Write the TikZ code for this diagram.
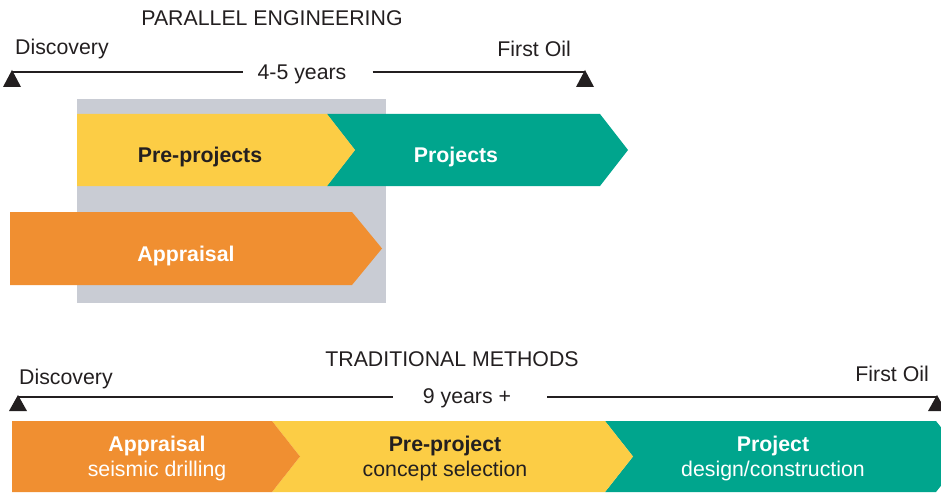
\documentclass[tikz,border=0pt]{standalone}
\usepackage{fontspec}
\setmainfont{Liberation Sans}
\definecolor{cyellow}{HTML}{FCCD45}
\definecolor{cteal}{HTML}{00A58D}
\definecolor{corange}{HTML}{F08F31}
\definecolor{cgray}{HTML}{C9CCD4}
\definecolor{ctext}{HTML}{231F20}
\begin{document}
\begin{tikzpicture}[x=1pt,y=-1pt,
  lbl/.style={font=\fontsize{21.3}{25}\selectfont, text=ctext, inner sep=0pt},
  blbl/.style={font=\fontsize{21.3}{25}\selectfont\bfseries, inner sep=0pt},
  tline/.style={draw=ctext, line width=2.2pt},
  tri/.style={fill=ctext},
]
\useasboundingbox (0,0) rectangle (941,492);
% ---------- PARALLEL ENGINEERING ----------
\node[lbl] (ptitle) at (272,18) {PARALLEL ENGINEERING};
\node[lbl,anchor=west] (pdisc) at (15,49) {Discovery};
\node[lbl,anchor=east] (poil) at (571,49) {First Oil};
\coordinate (pL) at (12,72);
\coordinate (pR) at (585,72);
\node[lbl] (pyears) at (302,74) {4-5 years};
\draw[tline] (pL) -- ([xshift=-14pt]pyears.west |- pL);
\draw[tline] ([xshift=26pt]pyears.east |- pR) -- (pR);
\fill[tri] (12,70) -- (21,87) -- (3,87) -- cycle;
\fill[tri] (585,70) -- (594,87) -- (576,87) -- cycle;
% gray band
\fill[cgray] (77,99) rectangle (386,303);
% arrows
\fill[cteal] (327,114) -- (600,114) -- (628,150) -- (600,186) -- (327,186) -- (355,150) -- cycle;
\fill[cyellow] (77,114) -- (327,114) -- (355,150) -- (327,186) -- (77,186) -- cycle;
\fill[corange] (10,212) -- (352,212) -- (382,248.5) -- (352,285) -- (10,285) -- cycle;
\node[blbl,text=ctext] (ppre) at (200,157) {Pre-projects};
\node[blbl,text=white] (pproj) at (456,157) {Projects};
\node[blbl,text=white] (pappr) at (186,256) {Appraisal};
% ---------- TRADITIONAL METHODS ----------
\node[lbl] (ttitle) at (452,359) {TRADITIONAL METHODS};
\node[lbl,anchor=west] (tdisc) at (19,379) {Discovery};
\node[lbl,anchor=east] (toil) at (929,374) {First Oil};
\coordinate (tL) at (18,397);
\coordinate (tR) at (937,397);
\node[lbl] (tyears) at (467,398) {9 years +};
\draw[tline] (tL) -- ([xshift=-30pt]tyears.west |- tL);
\draw[tline] ([xshift=36pt]tyears.east |- tR) -- (tR);
\fill[tri] (18,395) -- (27,411) -- (9,411) -- cycle;
\fill[tri] (937,395) -- (946,411) -- (928,411) -- cycle;
% arrows
\fill[cteal] (605,421) -- (936,421) -- (964,456.5) -- (936,492) -- (605,492) -- (633,456.5) -- cycle;
\fill[cyellow] (272,421) -- (605,421) -- (633,456.5) -- (605,492) -- (272,492) -- (300,456.5) -- cycle;
\fill[corange] (12,421) -- (272,421) -- (300,456.5) -- (272,492) -- (12,492) -- cycle;
\node[blbl,text=white] (tappr) at (157,446) {Appraisal};
\node[lbl,text=white] (tapprs) at (157,471) {seismic drilling};
\node[blbl,text=ctext] (tpre) at (445,446) {Pre-project};
\node[lbl] (tpres) at (445,471) {concept selection};
\node[blbl,text=white] (tproj) at (773,446) {Project};
\node[lbl,text=white] (tprojs) at (773,471) {design/construction};
\end{tikzpicture}
\end{document}
